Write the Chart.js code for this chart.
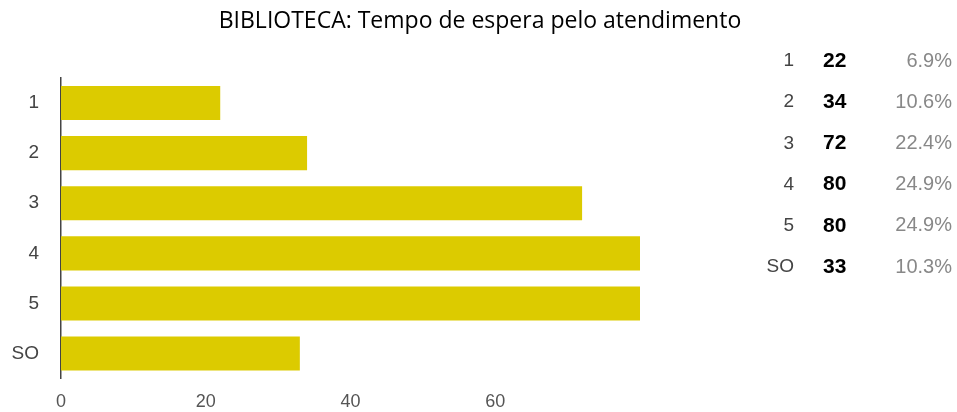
<!DOCTYPE html>
<html lang="pt">
<head>
    <meta charset="UTF-8">
    <title>BIBLIOTECA: Tempo de espera pelo atendimento</title>
    <script src="https://cdn.jsdelivr.net/npm/chart.js"></script>
    <style>
        body { margin: 0; background: #fff; }
        .wrap { position: relative; width: 957px; height: 412px; }
        .title {
            position: absolute; left: 0; width: 960px; top: 3px;
            text-align: center; font-family: 'Open Sans', sans-serif;
            font-size: 23px; color: #000;
        }
        canvas { position: absolute; left: 0; top: 0; }
    </style>
</head>
<body>
    <div class="wrap">
        <canvas id="chart" width="957" height="412"></canvas>
        <div class="title">BIBLIOTECA: Tempo de espera pelo atendimento</div>
    </div>

    <script>
        // values
        const categories = ['1', '2', '3', '4', '5', 'SO'];
        const counts = [22, 34, 72, 80, 80, 33];
        const pctLabels = ['6.9%', '10.6%', '22.4%', '24.9%', '24.9%', '10.3%'];
        const xTicks = [0, 20, 40, 60];

        // summary table on the right side
        const tablePlugin = {
            id: 'sideTable',
            afterDraw(chart) {
                const ctx = chart.ctx;
                ctx.save();
                ctx.textBaseline = 'middle';
                categories.forEach((cat, i) => {
                    const y = 61 + i * 41.2;
                    ctx.font = '19px "Liberation Sans", Arial, sans-serif';
                    ctx.fillStyle = '#444';
                    ctx.textAlign = 'right';
                    ctx.fillText(cat, 794, y);
                    ctx.font = 'bold 21px "Liberation Sans", Arial, sans-serif';
                    ctx.fillStyle = '#000';
                    ctx.textAlign = 'left';
                    ctx.fillText(String(counts[i]), 823, y);
                    ctx.font = '20px "Liberation Sans", Arial, sans-serif';
                    ctx.fillStyle = '#888';
                    ctx.textAlign = 'right';
                    ctx.fillText(pctLabels[i], 952, y);
                });
                ctx.restore();
            }
        };

        const ctx = document.getElementById('chart').getContext('2d');
        new Chart(ctx, {
            type: 'bar',
            data: {
                labels: categories,
                datasets: [{
                    data: counts,
                    backgroundColor: '#DCCB00',
                    borderWidth: 0,
                    barPercentage: 0.68,
                    categoryPercentage: 1
                }]
            },
            options: {
                indexAxis: 'y',
                responsive: false,
                animation: false,
                layout: { padding: { top: 78, right: 317, left: 0, bottom: 0 } },
                plugins: {
                    legend: { display: false },
                    tooltip: { enabled: false }
                },
                scales: {
                    x: {
                        min: 0,
                        max: 80,
                        afterFit: s => { s.height = 29; },
                        afterBuildTicks: s => { s.ticks = xTicks.map(v => ({ value: v })); },
                        grid: { display: false },
                        border: { display: false },
                        ticks: {
                            padding: 5,
                            color: '#555',
                            font: { family: '"Liberation Sans", Arial, sans-serif', size: 18 }
                        }
                    },
                    y: {
                        afterFit: s => { s.width = 61; },
                        grid: { display: false, drawTicks: false },
                        border: { display: true, color: '#444', width: 1.5 },
                        ticks: {
                            padding: 22,
                            color: '#444',
                            font: { family: '"Liberation Sans", Arial, sans-serif', size: 19 }
                        }
                    }
                }
            },
            plugins: [tablePlugin]
        });
    </script>
</body>
</html>
